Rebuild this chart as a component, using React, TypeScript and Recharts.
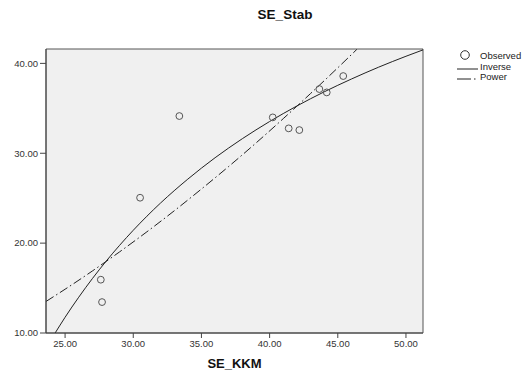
import {
  CartesianGrid,
  ComposedChart,
  Line,
  ReferenceArea,
  Scatter,
  XAxis,
  YAxis,
} from "recharts";

// observed points (SE_KKM, SE_Stab)
const observedX = [27.62, 27.71, 30.5, 33.38, 40.23, 41.4, 42.18, 43.65, 44.19, 45.4];
const observedY = [15.93, 13.44, 25.05, 34.14, 33.99, 32.77, 32.58, 37.14, 36.77, 38.59];

// inverse fit
const inverseX = [24.27, 25, 26, 27, 28, 29, 30, 32, 34, 36, 38, 40, 42, 44, 46, 48, 50, 51.25];
const inverseY = [10.0, 11.75, 13.98, 16.05, 17.97, 19.76, 21.43, 24.46, 27.12, 29.5, 31.62, 33.53, 35.26, 36.83, 38.26, 39.58, 40.79, 41.5];

// power fit
const powerX = [23.6, 25, 27, 29, 31, 33, 35, 37, 39, 41, 43, 45, 46.4];
const powerY = [13.51, 14.87, 16.9, 19.03, 21.26, 23.59, 26.02, 28.53, 31.14, 33.85, 36.64, 39.51, 41.56];

const X_TICKS = [25, 30, 35, 40, 45, 50];
const Y_TICKS = [10, 20, 30, 40];
const X_DOMAIN: [number, number] = [23.6, 51.25];
const Y_DOMAIN: [number, number] = [10, 41.6];

const observed = observedX.map((x, i) => ({ x, y: observedY[i] }));
const inverse = inverseX.map((x, i) => ({ x, y: inverseY[i] }));
const power = powerX.map((x, i) => ({ x, y: powerY[i] }));

const FONT = "'Liberation Sans', Arial, sans-serif";
const tickStyle = { fill: "#333", fontSize: 9.5, fontFamily: FONT };

const OpenCircle = (props: any) => (
  <circle cx={props.cx} cy={props.cy} r={3.4} fill="none" stroke="#555" strokeWidth={1} />
);

const LegendBox = () => (
  <svg
    width={72}
    height={40}
    style={{ position: "absolute", left: 452, top: 48, fontFamily: FONT, fontSize: 9.5 }}
  >
    <circle cx={13} cy={7} r={4.3} fill="none" stroke="#333" strokeWidth={1} />
    <text x={28} y={10.5} fill="#222">Observed</text>
    <line x1={5} x2={26} y1={21} y2={21} stroke="#222" strokeWidth={1} />
    <text x={28} y={21.5} fill="#222">Inverse</text>
    <line x1={5} x2={26} y1={31} y2={31} stroke="#222" strokeWidth={1} strokeDasharray="14 3 1.5 3" />
    <text x={28} y={32} fill="#222">Power</text>
  </svg>
);

export default function App() {
  return (
    <div style={{ position: "absolute", left: 0, top: 0, width: 524, height: 370, background: "#fff" }}>
      <div
        style={{
          position: "absolute",
          left: 0,
          width: 570,
          top: 7,
          textAlign: "center",
          fontFamily: FONT,
          fontWeight: "bold",
          fontSize: 13.5,
          color: "#111",
        }}
      >
        SE_Stab
      </div>
      <ComposedChart
        width={524}
        height={370}
        margin={{ top: 49, right: 101, bottom: 0, left: 0 }}
      >
        <CartesianGrid fill="#f0f0f0" horizontal={false} vertical={false} />
        <XAxis
          type="number"
          dataKey="x"
          domain={X_DOMAIN}
          ticks={X_TICKS}
          allowDataOverflow
          tickFormatter={(v: number) => v.toFixed(2)}
          tick={tickStyle}
          tickSize={5}
          tickMargin={2}
          height={37}
          axisLine={{ stroke: "#444" }}
          tickLine={{ stroke: "#444" }}
          label={{
            value: "SE_KKM",
            position: "insideBottom",
            offset: 2,
            style: { fontFamily: FONT, fontWeight: "bold", fontSize: 13, fill: "#111" },
          }}
        />
        <YAxis
          type="number"
          dataKey="y"
          domain={Y_DOMAIN}
          ticks={Y_TICKS}
          allowDataOverflow
          tickFormatter={(v: number) => v.toFixed(2)}
          tick={tickStyle}
          tickSize={6}
          tickMargin={2}
          width={46}
          axisLine={{ stroke: "#444" }}
          tickLine={{ stroke: "#444" }}
        />
        <ReferenceArea
          x1={X_DOMAIN[0]}
          x2={X_DOMAIN[1]}
          y1={Y_DOMAIN[0]}
          y2={Y_DOMAIN[1]}
          fill="none"
          stroke="#555"
          strokeWidth={1}
        />
        <Line
          data={inverse}
          dataKey="y"
          type="monotone"
          stroke="#222"
          strokeWidth={1}
          dot={false}
          activeDot={false}
          isAnimationActive={false}
          name="Inverse"
        />
        <Line
          data={power}
          dataKey="y"
          type="monotone"
          stroke="#222"
          strokeWidth={1}
          strokeDasharray="9 3 1.5 3"
          dot={false}
          activeDot={false}
          isAnimationActive={false}
          name="Power"
        />
        <Scatter
          data={observed}
          dataKey="y"
          shape={OpenCircle}
          isAnimationActive={false}
          name="Observed"
        />
      </ComposedChart>
      <LegendBox />
    </div>
  );
}
